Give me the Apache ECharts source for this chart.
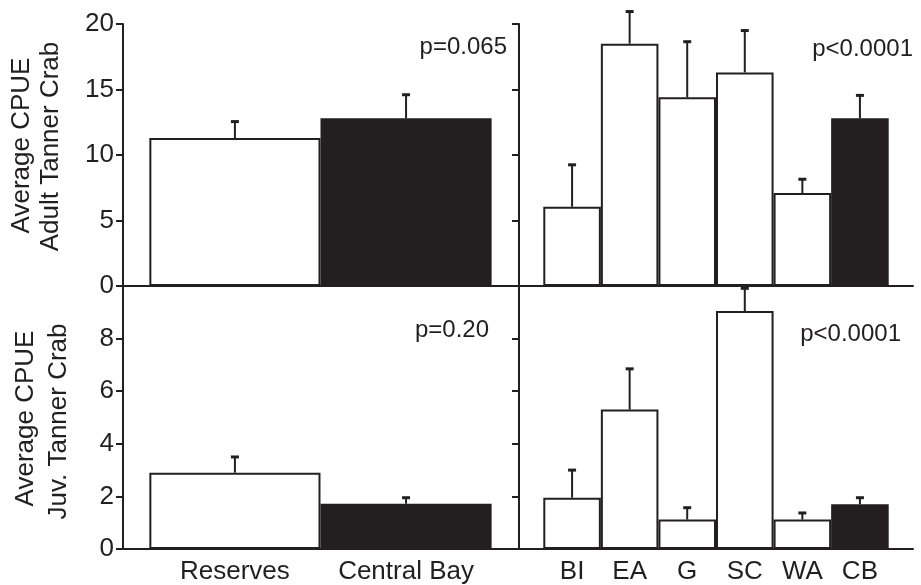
<!DOCTYPE html>
<html><head><meta charset="utf-8">
<script src="https://cdn.jsdelivr.net/npm/echarts@6/dist/echarts.min.js"></script>
<style>html,body{margin:0;padding:0;background:#fff}#c{width:921px;height:585px}</style>
</head><body><div id="c"></div>
<script>
// ---- data ----
const siteCats = ['Reserves', 'Central Bay'];
const areaCats = ['BI', 'EA', 'G', 'SC', 'WA', 'CB'];
const adultSite = [11.3, 12.8];
const adultSiteErr = [1.25, 1.8];
const adultArea = [6.05, 18.5, 14.4, 16.3, 7.1, 12.8];
const adultAreaErr = [3.2, 2.45, 4.25, 3.2, 1.05, 1.75];
const juvSite = [2.9, 1.72];
const juvSiteErr = [0.6, 0.23];
const juvArea = [1.95, 5.3, 1.12, 9.05, 1.12, 1.7];
const juvAreaErr = [1.05, 1.55, 0.45, 0.86, 0.25, 0.25];
const adultTicks = [0, 5, 10, 15, 20];
const juvTicks = [0, 2, 4, 6, 8, 10];
const pLabels = ['p=0.065', 'p<0.0001', 'p=0.20', 'p<0.0001'];
const darkCats = ['Central Bay', 'CB'];

// ---- style ----
const INK = '#231f20';
const FONT = "'Liberation Sans', Arial, Helvetica, sans-serif";

const panels = [
  {cats: siteCats, vals: adultSite, errs: adultSiteErr, ticks: adultTicks, grid: {left: 123, top: 24, width: 396, height: 262}, pad: [0.154, 0.16], yLabels: true, xLabels: false},
  {cats: areaCats, vals: adultArea, errs: adultAreaErr, ticks: adultTicks, grid: {left: 519, top: 24, width: 394, height: 262}, pad: [0.422, 0.422], yLabels: false, xLabels: false},
  {cats: siteCats, vals: juvSite, errs: juvSiteErr, ticks: juvTicks, grid: {left: 123, top: 286, width: 396, height: 263}, pad: [0.154, 0.16], yLabels: true, xLabels: true},
  {cats: areaCats, vals: juvArea, errs: juvAreaErr, ticks: juvTicks, grid: {left: 519, top: 286, width: 394, height: 263}, pad: [0.422, 0.422], yLabels: false, xLabels: true}
];

const grid = [], xAxis = [], yAxis = [], series = [];
panels.forEach((p, k) => {
  grid.push(p.grid);
  const n = p.cats.length;
  xAxis.push({
    type: 'value', gridIndex: k,
    min: -0.5 - p.pad[0], max: n - 0.5 + p.pad[1],
    axisLine: {show: true, onZero: false, lineStyle: {color: INK, width: 2}},
    axisTick: {show: false}, splitLine: {show: false},
    axisLabel: {
      show: p.xLabels, customValues: p.cats.map((c, i) => i),
      formatter: v => p.cats[Math.round(v)] || '',
      color: INK, fontSize: 26, fontFamily: FONT, margin: 10
    }
  });
  const tmax = p.ticks[p.ticks.length - 1];
  yAxis.push({
    type: 'value', gridIndex: k,
    min: p.ticks[0], max: tmax, interval: p.ticks[1] - p.ticks[0],
    axisLine: {show: true, onZero: false, lineStyle: {color: INK, width: 2}},
    axisTick: {show: true, length: 7, lineStyle: {color: INK, width: 2}},
    splitLine: {show: false},
    axisLabel: {
      show: p.yLabels, color: INK, fontSize: 26, fontFamily: FONT, margin: 9,
      showMaxLabel: k === 0
    }
  });
  series.push({
    type: 'bar', xAxisIndex: k, yAxisIndex: k,
    barWidth: '100%',
    itemStyle: {borderColor: INK, borderWidth: 2},
    data: p.vals.map((v, i) => ({
      value: [i, v],
      itemStyle: {color: darkCats.includes(p.cats[i]) ? INK : '#ffffff'}
    })),
    z: 2
  });
  series.push({
    type: 'custom', xAxisIndex: k, yAxisIndex: k,
    encode: {x: 0, y: [1, 2]},
    clip: false, z: 3,
    data: p.vals.map((v, i) => [i, v, v + p.errs[i]]),
    renderItem: (params, api) => {
      const x = api.value(0);
      const a = api.coord([x, api.value(1)]);
      const b = api.coord([x, api.value(2)]);
      return {
        type: 'group', children: [
          {type: 'line', shape: {x1: a[0], y1: a[1], x2: b[0], y2: b[1]}, style: {stroke: INK, lineWidth: 2}},
          {type: 'line', shape: {x1: b[0] - 4, y1: b[1], x2: b[0] + 4, y2: b[1]}, style: {stroke: INK, lineWidth: 3}}
        ]
      };
    }
  });
});

const txt = (text, x, y, opt) => ({
  type: 'text', x: x, y: y,
  style: Object.assign({text: text, fill: INK, font: '26px ' + FONT, align: 'center', verticalAlign: 'middle'}, opt || {})
});

const graphic = [
  Object.assign(txt('Average CPUE', 22, 145.5), {rotation: Math.PI / 2}),
  Object.assign(txt('Adult Tanner Crab', 51, 146.5), {rotation: Math.PI / 2}),
  Object.assign(txt('Average CPUE', 26, 418.5), {rotation: Math.PI / 2}),
  Object.assign(txt('Juv. Tanner Crab', 59, 421.5), {rotation: Math.PI / 2}),
  txt(pLabels[0], 507, 47.5, {align: 'right', font: '24px ' + FONT}),
  txt(pLabels[1], 913, 49, {align: 'right', font: '24px ' + FONT}),
  txt(pLabels[2], 489, 330, {align: 'right', font: '24px ' + FONT}),
  txt(pLabels[3], 901, 334.5, {align: 'right', font: '24px ' + FONT})
];

const chart = echarts.init(document.getElementById('c'), null, {renderer: 'canvas'});
chart.setOption({
  backgroundColor: '#ffffff',
  animation: false,
  grid: grid, xAxis: xAxis, yAxis: yAxis, series: series, graphic: graphic
});
</script>
</body></html>
